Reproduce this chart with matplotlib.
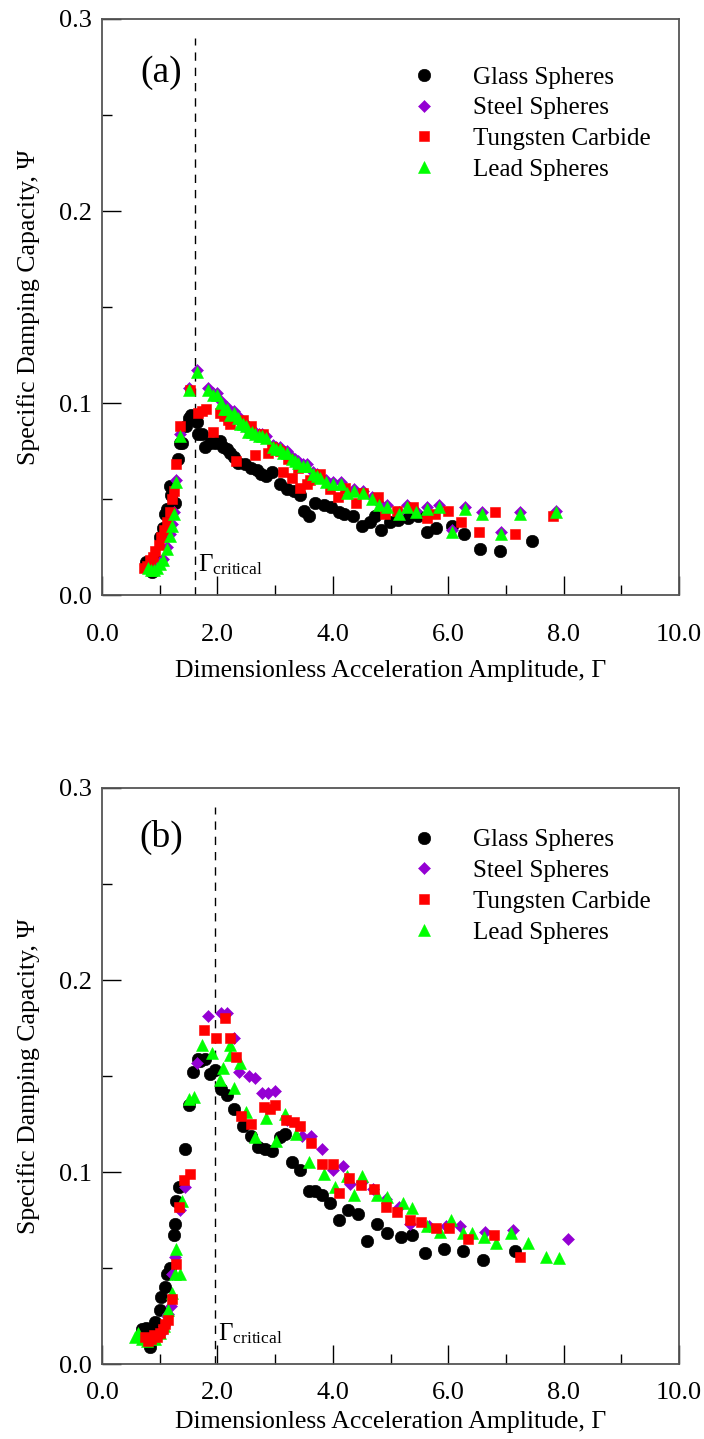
import numpy as np
import matplotlib
matplotlib.use('Agg')
import matplotlib.pyplot as plt
from matplotlib.ticker import MultipleLocator, FormatStrFormatter

plt.rcParams['font.family'] = ['Liberation Serif', 'DejaVu Serif']
plt.rcParams['mathtext.fontset'] = 'custom'
plt.rcParams['mathtext.rm'] = 'Liberation Serif'
plt.rcParams['mathtext.it'] = 'Liberation Serif:italic'

labels = ['Glass Spheres', 'Steel Spheres', 'Tungsten Carbide', 'Lead Spheres']
gamma_crit = [1.61, 1.95]

# ---- panel (a) ----
glass_a_x = [0.77, 0.83, 0.86, 0.92, 1.00, 1.05, 1.09, 1.12, 1.17, 1.20, 1.27, 1.32, 1.35, 1.38, 1.45,
             1.50, 1.55, 1.64, 1.67, 1.73, 1.79, 1.87, 1.96, 2.05, 2.10, 2.16, 2.22, 2.28, 2.36, 2.48,
             2.59, 2.68, 2.75, 2.85, 2.95, 3.08, 3.20, 3.32, 3.43, 3.50, 3.58, 3.69, 3.84, 3.97, 4.10,
             4.20, 4.35, 4.51, 4.64, 4.73, 4.83, 4.99, 5.13, 5.30, 5.48, 5.63, 5.79, 6.06, 6.27, 6.55,
             6.90, 7.45]
glass_a_y = [0.017, 0.015, 0.012, 0.018, 0.030, 0.035, 0.042, 0.045, 0.057, 0.052, 0.048, 0.071, 0.079, 0.079, 0.088,
             0.092, 0.094, 0.090, 0.084, 0.084, 0.077, 0.079, 0.079, 0.080, 0.077, 0.076, 0.074, 0.072, 0.069, 0.068,
             0.066, 0.065, 0.063, 0.062, 0.064, 0.058, 0.055, 0.054, 0.052, 0.044, 0.041, 0.048, 0.047, 0.046, 0.043,
             0.042, 0.041, 0.036, 0.038, 0.041, 0.034, 0.038, 0.039, 0.040, 0.041, 0.033, 0.035, 0.036, 0.032, 0.024,
             0.023, 0.028]

lead_a_x = [0.80, 0.85, 0.90, 0.95, 1.00, 1.06, 1.12, 1.18, 1.21, 1.24, 1.29, 1.36, 1.50, 1.64, 1.84,
            1.92, 1.99, 2.07, 2.12, 2.16, 2.22, 2.28, 2.35, 2.39, 2.45, 2.50, 2.53, 2.60, 2.65, 2.72,
            2.77, 2.85, 2.97, 3.02, 3.08, 3.14, 3.20, 3.29, 3.35, 3.40, 3.48, 3.55, 3.66, 3.72, 3.78,
            3.89, 4.00, 4.15, 4.24, 4.37, 4.53, 4.68, 4.80, 4.94, 5.15, 5.28, 5.44, 5.63, 5.84, 6.07,
            6.29, 6.59, 6.92, 7.25, 7.87]
lead_a_y = [0.014, 0.013, 0.013, 0.014, 0.016, 0.018, 0.024, 0.031, 0.036, 0.042, 0.059, 0.083, 0.107, 0.116, 0.107,
            0.104, 0.104, 0.100, 0.097, 0.097, 0.094, 0.095, 0.092, 0.089, 0.089, 0.088, 0.085, 0.085, 0.084, 0.083,
            0.083, 0.082, 0.077, 0.076, 0.076, 0.074, 0.074, 0.071, 0.070, 0.069, 0.067, 0.067, 0.063, 0.062, 0.061,
            0.059, 0.058, 0.058, 0.053, 0.054, 0.053, 0.050, 0.047, 0.046, 0.042, 0.046, 0.043, 0.045, 0.046, 0.033,
            0.045, 0.042, 0.032, 0.042, 0.043]

# steel sits right under the lead points in (a)
steel_a_x = lead_a_x
steel_a_y = [0.015, 0.014, 0.014, 0.015, 0.017, 0.019, 0.025, 0.032, 0.037, 0.043, 0.060, 0.084, 0.108, 0.117, 0.108,
             0.105, 0.105, 0.101, 0.098, 0.098, 0.095, 0.096, 0.093, 0.090, 0.090, 0.089, 0.086, 0.086, 0.085, 0.084,
             0.084, 0.083, 0.078, 0.077, 0.077, 0.075, 0.075, 0.072, 0.071, 0.070, 0.068, 0.068, 0.064, 0.063, 0.062,
             0.060, 0.059, 0.059, 0.054, 0.055, 0.054, 0.051, 0.048, 0.047, 0.043, 0.047, 0.044, 0.046, 0.047, 0.034,
             0.046, 0.043, 0.033, 0.043, 0.044]

tc_a_x = [0.72, 0.78, 0.83, 0.88, 0.92, 0.98, 1.03, 1.08, 1.12, 1.18, 1.21, 1.24, 1.29, 1.35, 1.53,
          1.67, 1.73, 1.81, 1.93, 2.05, 2.12, 2.18, 2.22, 2.33, 2.45, 2.59, 2.65, 2.79, 2.88, 2.94,
          3.03, 3.08, 3.13, 3.23, 3.29, 3.40, 3.43, 3.55, 3.60, 3.78, 3.95, 4.09, 4.21, 4.41, 4.53,
          4.79, 4.91, 5.11, 5.39, 5.63, 5.77, 6.00, 6.22, 6.53, 6.81, 7.16, 7.82]
tc_a_y = [0.014, 0.015, 0.018, 0.020, 0.023, 0.026, 0.030, 0.034, 0.038, 0.043, 0.050, 0.054, 0.068, 0.088, 0.107,
          0.095, 0.096, 0.097, 0.085, 0.095, 0.093, 0.091, 0.089, 0.070, 0.091, 0.088, 0.073, 0.084, 0.074, 0.077,
          0.076, 0.075, 0.064, 0.071, 0.061, 0.066, 0.056, 0.058, 0.060, 0.063, 0.055, 0.051, 0.056, 0.048, 0.053,
          0.051, 0.042, 0.044, 0.046, 0.040, 0.042, 0.044, 0.038, 0.033, 0.043, 0.032, 0.041]

# ---- panel (b) ----
glass_b_x = [0.69, 0.77, 0.83, 0.86, 0.92, 1.00, 1.03, 1.09, 1.12, 1.18, 1.24, 1.27, 1.29, 1.34, 1.44,
             1.51, 1.58, 1.67, 1.70, 1.79, 1.87, 1.96, 2.07, 2.16, 2.29, 2.45, 2.59, 2.71, 2.82, 2.94,
             3.08, 3.17, 3.29, 3.43, 3.58, 3.69, 3.81, 3.95, 4.10, 4.26, 4.43, 4.59, 4.76, 4.94, 5.18,
             5.38, 5.59, 5.92, 6.26, 6.60, 7.16]
glass_b_y = [0.018, 0.019, 0.009, 0.019, 0.022, 0.028, 0.035, 0.040, 0.047, 0.050, 0.067, 0.073, 0.085, 0.092, 0.112,
             0.135, 0.152, 0.159, 0.158, 0.159, 0.151, 0.153, 0.143, 0.140, 0.133, 0.124, 0.119, 0.113, 0.112, 0.111,
             0.118, 0.120, 0.105, 0.101, 0.090, 0.090, 0.088, 0.084, 0.075, 0.080, 0.078, 0.064, 0.073, 0.068, 0.066,
             0.067, 0.058, 0.060, 0.059, 0.054, 0.059]

steel_b_x = [0.80, 0.88, 0.95, 1.02, 1.08, 1.12, 1.15, 1.20, 1.22, 1.27, 1.35, 1.44, 1.64, 1.83, 2.07,
             2.16, 2.28, 2.37, 2.54, 2.65, 2.77, 2.88, 2.99, 3.20, 3.46, 3.62, 3.81, 4.00, 4.18, 4.30,
             4.50, 4.70, 4.93, 5.15, 5.34, 5.67, 5.97, 6.20, 6.64, 7.13, 8.08]
steel_b_y = [0.013, 0.014, 0.015, 0.016, 0.020, 0.025, 0.026, 0.030, 0.047, 0.056, 0.080, 0.092, 0.157, 0.181, 0.183,
             0.183, 0.170, 0.152, 0.150, 0.149, 0.141, 0.141, 0.142, 0.127, 0.119, 0.119, 0.112, 0.101, 0.103, 0.094,
             0.095, 0.091, 0.086, 0.082, 0.073, 0.072, 0.072, 0.072, 0.069, 0.070, 0.065]

tc_b_x = [0.75, 0.80, 0.85, 0.90, 0.95, 1.00, 1.05, 1.10, 1.15, 1.21, 1.29, 1.34, 1.42, 1.52, 1.77,
          1.98, 2.14, 2.21, 2.33, 2.41, 2.59, 2.80, 2.92, 3.00, 3.19, 3.33, 3.43, 3.62, 3.82, 4.00,
          4.10, 4.28, 4.49, 4.71, 4.92, 5.12, 5.33, 5.53, 5.78, 6.02, 6.35, 6.79, 7.24]
tc_b_y = [0.014, 0.012, 0.013, 0.015, 0.014, 0.016, 0.018, 0.021, 0.023, 0.034, 0.052, 0.082, 0.096, 0.099, 0.174,
          0.170, 0.180, 0.170, 0.160, 0.129, 0.125, 0.134, 0.133, 0.135, 0.127, 0.126, 0.124, 0.115, 0.104, 0.104,
          0.089, 0.097, 0.093, 0.091, 0.082, 0.079, 0.075, 0.074, 0.071, 0.071, 0.065, 0.067, 0.056]

lead_b_x = [0.57, 0.62, 0.70, 0.78, 0.85, 0.92, 1.00, 1.08, 1.15, 1.21, 1.27, 1.28, 1.35, 1.38, 1.50,
            1.59, 1.73, 1.90, 2.05, 2.10, 2.21, 2.22, 2.29, 2.39, 2.50, 2.65, 2.85, 3.02, 3.17, 3.37,
            3.58, 3.85, 4.04, 4.25, 4.36, 4.50, 4.76, 4.94, 5.21, 5.38, 5.63, 5.86, 6.05, 6.26, 6.41,
            6.62, 6.83, 7.08, 7.38, 7.69, 7.92]
lead_b_y = [0.014, 0.016, 0.013, 0.012, 0.014, 0.013, 0.016, 0.020, 0.028, 0.037, 0.047, 0.060, 0.047, 0.085, 0.138,
            0.139, 0.166, 0.162, 0.148, 0.154, 0.166, 0.161, 0.144, 0.157, 0.131, 0.118, 0.128, 0.116, 0.130, 0.120,
            0.105, 0.099, 0.092, 0.098, 0.088, 0.098, 0.088, 0.087, 0.084, 0.081, 0.072, 0.069, 0.075, 0.068, 0.068,
            0.066, 0.063, 0.068, 0.063, 0.056, 0.055]

# marker styles: glass, steel, tungsten, lead
styles = [dict(marker='o', color='black', ms=9.0),
          dict(marker='D', color='#9400d3', ms=6.0),
          dict(marker='s', color='#ff0000', ms=7.8),
          dict(marker='^', color='#00ff00', ms=9.2)]

panels = [
    ('(a)', [(glass_a_x, glass_a_y), (steel_a_x, steel_a_y), (tc_a_x, tc_a_y), (lead_a_x, lead_a_y)], [0, 1, 2, 3]),
    ('(b)', [(glass_b_x, glass_b_y), (steel_b_x, steel_b_y), (tc_b_x, tc_b_y), (lead_b_x, lead_b_y)], [0, 1, 3, 2]),
]

fig = plt.figure(figsize=(7.04, 14.39), dpi=100)
axes_pos = [[0.1449, 0.5865, 0.8196, 0.4003], [0.1449, 0.0521, 0.8196, 0.4003]]
tag_y = [0.272, 0.274]
leg_top = [0.918, 0.929]
xpad = [21, 13]
xlabpad = [10, 5]

for k, (tag, series, order) in enumerate(panels):
    ax = fig.add_axes(axes_pos[k])
    handles = [None] * 4
    for z, i in enumerate(order):
        x, y = series[i]
        st = styles[i]
        h, = ax.plot(x, y, linestyle='none', marker=st['marker'], ms=st['ms'],
                     mfc=st['color'], mec=st['color'], mew=0.4, zorder=3 + z, label=labels[i])
        handles[i] = h

    ax.plot([gamma_crit[k], gamma_crit[k]], [0, 0.29], color='black', lw=1.0,
            dashes=(6, 5), zorder=2)
    ax.text(gamma_crit[k] + 0.06, 0.016, r'$\Gamma_{\mathrm{critical}}$', fontsize=18,
            ha='left', va='center')
    ax.text(1.02, tag_y[k], tag, fontsize=27, ha='center', va='center')

    ax.set_xlim(0, 10)
    ax.set_ylim(0, 0.3)
    ax.xaxis.set_major_locator(MultipleLocator(2))
    ax.xaxis.set_minor_locator(MultipleLocator(1))
    ax.yaxis.set_major_locator(MultipleLocator(0.1))
    ax.yaxis.set_minor_locator(MultipleLocator(0.05))
    ax.xaxis.set_major_formatter(FormatStrFormatter('%.1f'))
    ax.yaxis.set_major_formatter(FormatStrFormatter('%.1f'))
    ax.tick_params(which='both', direction='in', top=False, right=False, labelsize=19)
    ax.tick_params(axis='x', which='major', length=13.5, width=1.0, pad=xpad[k])
    ax.tick_params(axis='y', which='major', length=13.5, width=1.0, pad=7)
    ax.tick_params(which='minor', length=7, width=1.0)
    for sp in ax.spines.values():
        sp.set_color('#555555')
        sp.set_linewidth(1.3)

    ax.set_xlabel('Dimensionless Acceleration Amplitude, \u0393', fontsize=18.5, labelpad=xlabpad[k])
    ax.set_ylabel('Specific Damping Capacity, \u03a8', fontsize=18.5, labelpad=14)

    ax.legend(handles=handles, labels=labels, loc='upper left', bbox_to_anchor=(0.536, leg_top[k]),
              frameon=False, fontsize=18, handlelength=1.0, handletextpad=1.46,
              labelspacing=0.33, borderpad=0.0, borderaxespad=0.0, numpoints=1)

fig.savefig('out.png', dpi=100)
